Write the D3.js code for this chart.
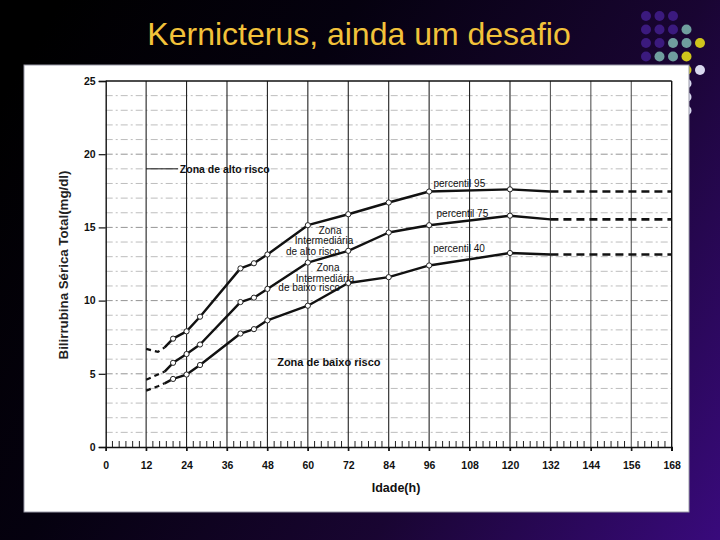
<!DOCTYPE html>
<html>
<head>
<meta charset="utf-8">
<script src="https://d3js.org/d3.v7.min.js"></script>
<style>
  html, body { margin: 0; padding: 0; background: #000; }
  svg { display: block; font-family: "Liberation Sans", Arial, sans-serif; }
</style>
</head>
<body>
<div id="container"></div>
<script>
// hours that carry a circle marker on each percentile curve
const markHours = [20, 24, 28, 40, 44, 48, 60, 72, 84, 96, 120];
const p95 = [7.4, 7.9, 8.9, 12.2, 12.55, 13.15, 15.15, 15.9, 16.7, 17.45, 17.6];
const p75 = [5.75, 6.35, 7.0, 9.9, 10.2, 10.8, 12.6, 13.4, 14.65, 15.15, 15.8];
const p40 = [4.65, 4.95, 5.6, 7.75, 8.05, 8.65, 9.65, 11.2, 11.6, 12.4, 13.25];

// dashed start of each curve (first hours of life)
const headHours = [12, 15.5, 17.5];
const p95Head = [6.7, 6.5, 6.8];
const p75Head = [4.6, 4.95, 5.15];
const p40Head = [3.85, 4.15, 4.35];

// solid end after the last marker, then dashed extension
const endHours = [132, 168];
const p95End = [17.45, 17.45];
const p75End = [15.55, 15.55];
const p40End = [13.15, 13.15];

const xTicks = d3.range(0, 169, 12);
const yTicks = [0, 5, 10, 15, 20, 25];

const title = 'Kernicterus, ainda um desafio';
const yTitle = 'Bilirrubina Sérica Total(mg/dl)';
const xTitle = 'Idade(h)';

const width = 720, height = 540;

const svg = d3.select('#container')
    .append('svg')
    .attr('width', width)
    .attr('height', height);

// slide background
const defs = svg.append('defs');
const grad = defs.append('linearGradient')
    .attr('id', 'bg')
    .attr('gradientUnits', 'userSpaceOnUse')
    .attr('x1', 0).attr('y1', 100)
    .attr('x2', 720).attr('y2', 540);
grad.append('stop').attr('offset', 0).attr('stop-color', '#000000');
grad.append('stop').attr('offset', 0.3).attr('stop-color', '#05010f');
grad.append('stop').attr('offset', 0.65).attr('stop-color', '#190532');
grad.append('stop').attr('offset', 1).attr('stop-color', '#390a7c');

svg.append('rect')
    .attr('width', width).attr('height', height)
    .attr('fill', 'url(#bg)');

// decorative dot grid, top right
const P = '#3b1a7e', T = '#6f9e9e', Y = '#cfc51c', W = '#d9d9ef';
const dotRows = [
    [P, P, P],
    [P, P, P, T],
    [P, P, T, T, Y],
    [P, T, T, Y],
    [T, T, Y, Y, W],
    [null, null, null, W],
    [null, null, null, W],
    [null, null, null, W]
];
dotRows.forEach((row, r) => {
    row.forEach((c, i) => {
        if (!c) return;
        svg.append('circle')
            .attr('cx', 646 + i * 13.5)
            .attr('cy', 16 + r * 13.5)
            .attr('r', 5)
            .attr('fill', c);
    });
});

svg.append('text')
    .attr('x', 359).attr('y', 45)
    .attr('text-anchor', 'middle')
    .attr('fill', '#f2c23a')
    .attr('font-size', 32)
    .text(title);

// white panel holding the scanned chart
svg.append('rect')
    .attr('x', 24).attr('y', 65)
    .attr('width', 665).attr('height', 447)
    .attr('fill', '#ffffff')
    .attr('stroke', '#9a9aa8')
    .attr('stroke-width', 1);

const x = d3.scaleLinear().domain([0, 168]).range([105.7, 671.7]);
const y = d3.scaleLinear().domain([0, 25]).range([447, 81]);

const g = svg.append('g');

// horizontal dashed grid every 1 mg/dl
g.append('g')
    .selectAll('line')
    .data(d3.range(1, 25))
    .join('line')
    .attr('x1', x(0)).attr('x2', x(168))
    .attr('y1', d => y(d)).attr('y2', d => y(d))
    .attr('stroke', d => d % 5 === 0 ? '#888' : '#b6b6b6')
    .attr('stroke-width', 0.9)
    .attr('stroke-dasharray', '7,3,2,3');

// vertical grid every 12 h
g.append('g')
    .selectAll('line')
    .data(xTicks.slice(1))
    .join('line')
    .attr('x1', d => x(d)).attr('x2', d => x(d))
    .attr('y1', y(25)).attr('y2', y(0) + 4)
    .attr('stroke', d => d === 168 ? '#111' : (d > 120 ? '#555' : '#222'))
    .attr('stroke-width', d => d === 168 ? 1.4 : 1.1);

// top frame
g.append('line')
    .attr('x1', x(0)).attr('x2', x(168))
    .attr('y1', y(25)).attr('y2', y(25))
    .attr('stroke', '#111').attr('stroke-width', 1.3);

// y axis
const yAxis = d3.axisLeft(y).tickValues(yTicks).tickSize(7).tickPadding(3);
const ya = g.append('g')
    .attr('transform', `translate(${x(0)},0)`)
    .call(yAxis);
ya.select('.domain').attr('stroke', '#111').attr('stroke-width', 1.4);
ya.selectAll('.tick line').attr('stroke', '#111').attr('stroke-width', 1.2);
ya.selectAll('.tick text')
    .attr('font-size', 10.5).attr('font-weight', 'bold')
    .attr('fill', '#111')
    .attr('font-family', '"Liberation Sans", Arial, sans-serif');

// x axis, major ticks below
const xAxis = d3.axisBottom(x).tickValues(xTicks).tickSize(4).tickPadding(11);
const xa = g.append('g')
    .attr('transform', `translate(0,${y(0)})`)
    .call(xAxis);
xa.select('.domain').attr('stroke', '#111').attr('stroke-width', 1.5);
xa.selectAll('.tick line').attr('stroke', '#111').attr('stroke-width', 1.3);
xa.selectAll('.tick text')
    .attr('font-size', 10.5).attr('font-weight', 'bold')
    .attr('fill', '#111')
    .attr('font-family', '"Liberation Sans", Arial, sans-serif');

// minor ticks every 2 h, upward
g.append('g')
    .selectAll('line')
    .data(d3.range(2, 168, 2).filter(d => d % 12 !== 0))
    .join('line')
    .attr('x1', d => x(d)).attr('x2', d => x(d))
    .attr('y1', y(0)).attr('y2', y(0) - 6)
    .attr('stroke', '#222')
    .attr('stroke-width', 1);

// axis titles
svg.append('text')
    .attr('transform', `translate(68,265) rotate(-90)`)
    .attr('text-anchor', 'middle')
    .attr('font-size', 13.3)
    .attr('font-weight', 'bold')
    .attr('fill', '#222')
    .text(yTitle);

svg.append('text')
    .attr('x', 396).attr('y', 492)
    .attr('text-anchor', 'middle')
    .attr('font-size', 12.5)
    .attr('font-weight', 'bold')
    .attr('fill', '#111')
    .text(xTitle);

// curves
const line = d3.line().x(d => x(d[0])).y(d => y(d[1]));
const curves = [
    { head: p95Head, main: p95, end: p95End },
    { head: p75Head, main: p75, end: p75End },
    { head: p40Head, main: p40, end: p40End }
];

curves.forEach(c => {
    const headPts = headHours.map((h, i) => [h, c.head[i]]);
    const mainPts = markHours.map((h, i) => [h, c.main[i]]);
    const solid = [headPts[headPts.length - 1], ...mainPts, [endHours[0], c.end[0]]];
    const tail = endHours.map((h, i) => [h, c.end[i]]);

    g.append('path')
        .datum(headPts)
        .attr('fill', 'none')
        .attr('stroke', '#111')
        .attr('stroke-width', 2.2)
        .attr('stroke-dasharray', '5,4')
        .attr('d', line);

    g.append('path')
        .datum(solid)
        .attr('fill', 'none')
        .attr('stroke', '#111')
        .attr('stroke-width', 2.4)
        .attr('stroke-linejoin', 'round')
        .attr('d', line);

    g.append('path')
        .datum(tail)
        .attr('fill', 'none')
        .attr('stroke', '#111')
        .attr('stroke-width', 2.6)
        .attr('stroke-dasharray', '8,5')
        .attr('d', line);

    g.append('g')
        .selectAll('circle')
        .data(mainPts)
        .join('circle')
        .attr('cx', d => x(d[0]))
        .attr('cy', d => y(d[1]))
        .attr('r', 2.6)
        .attr('fill', '#fff')
        .attr('stroke', '#222')
        .attr('stroke-width', 1);
});

// annotations (positioned in data units)
const labels = [
    { t: 'percentil 95', h: 97.3, v: 17.75, a: 'start', w: 'normal', s: 10 },
    { t: 'percentil 75', h: 98.2, v: 15.7, a: 'start', w: 'normal', s: 10 },
    { t: 'percentil 40', h: 97.2, v: 13.3, a: 'start', w: 'normal', s: 10 },
    { t: 'Zona de alto risco', h: 22.0, v: 18.75, a: 'start', w: 'bold', s: 10.5 },
    { t: 'Zona', h: 66.6, v: 14.55, a: 'middle', w: 'normal', s: 10 },
    { t: 'Intermediária', h: 64.8, v: 13.85, a: 'middle', w: 'normal', s: 10 },
    { t: 'de alto risco', h: 61.5, v: 13.1, a: 'middle', w: 'normal', s: 10 },
    { t: 'Zona', h: 66.0, v: 12.0, a: 'middle', w: 'normal', s: 10 },
    { t: 'Intermediária', h: 65.1, v: 11.3, a: 'middle', w: 'normal', s: 10 },
    { t: 'de baixo risco', h: 60.4, v: 10.65, a: 'middle', w: 'normal', s: 10 },
    { t: 'Zona de baixo risco', h: 50.9, v: 5.55, a: 'start', w: 'bold', s: 11 }
];

g.append('g')
    .selectAll('text')
    .data(labels)
    .join('text')
    .attr('x', d => x(d.h))
    .attr('y', d => y(d.v))
    .attr('text-anchor', d => d.a)
    .attr('font-size', d => d.s)
    .attr('font-weight', d => d.w)
    .attr('fill', '#111')
    .text(d => d.t);

// leader line for the high risk zone
g.append('line')
    .attr('x1', x(12)).attr('x2', x(21.5))
    .attr('y1', y(19)).attr('y2', y(19))
    .attr('stroke', '#111')
    .attr('stroke-width', 1);
</script>
</body>
</html>
